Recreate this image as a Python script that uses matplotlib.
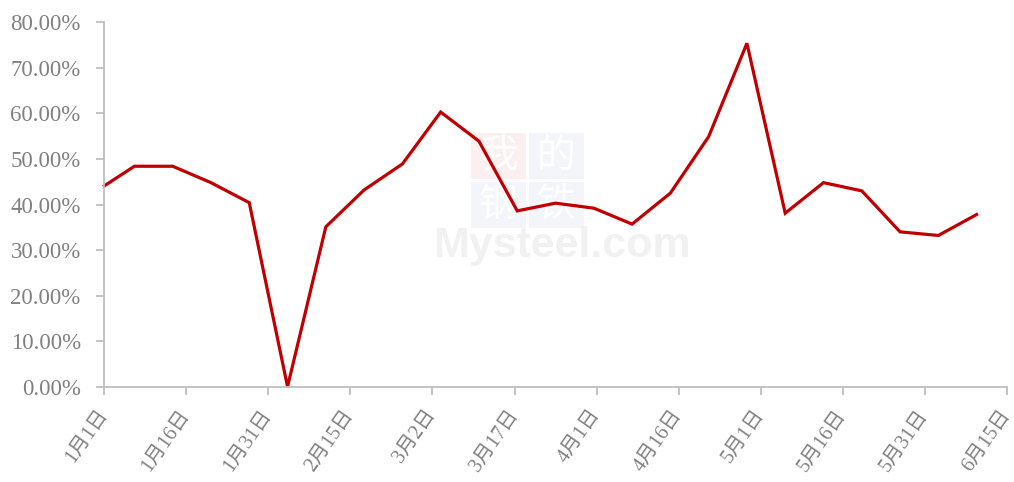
import matplotlib
matplotlib.use("Agg")
import matplotlib.pyplot as plt
from matplotlib.patches import Rectangle
from matplotlib.ticker import FuncFormatter, MultipleLocator

# Data: x = days since 1月1日, y = percentage
day_offsets = [0, 5.5, 12.5, 19.5, 26.5, 33.5, 40.5, 47.5, 54.5, 61.5, 68.5, 75.5,
               82.5, 89.5, 96.5, 103.5, 110.5, 117.5, 124.5, 131.5, 138.5, 145.5,
               152.5, 159.5]
values = [44.1, 48.4, 48.4, 44.8, 40.4, 0.0, 35.1, 43.2, 48.9, 60.3, 53.9, 38.6,
          40.3, 39.2, 35.7, 42.5, 54.9, 75.4, 38.1, 44.8, 43.0, 34.0, 33.2, 37.8]

tick_days = [0, 15, 30, 45, 60, 75, 90, 105, 120, 135, 150, 165]
tick_labels = ["1月1日", "1月16日", "1月31日", "2月15日", "3月2日", "3月17日",
               "4月1日", "4月16日", "5月1日", "5月16日", "5月31日", "6月15日"]

fonts = ["Liberation Serif", "Noto Sans CJK SC", "DejaVu Sans"]
plt.rcParams["font.family"] = fonts

fig = plt.figure(figsize=(10.14, 4.82), dpi=100)
ax = fig.add_axes([0.1029, 0.1977, 0.8899, 0.756])

# watermark
wm_boxes = [
    (471, 133, "我", "#FCEFEF"),
    (529, 133, "的", "#F3F5FA"),
    (471, 182, "钢", "#F3F5FA"),
    (529, 182, "铁", "#F3F5FA"),
]
W, H = 1014, 482
for (x0, y0, ch, col) in wm_boxes:
    fig.patches.append(Rectangle((x0 / W, 1 - (y0 + 46) / H), 55 / W, 46 / H,
                                 transform=fig.transFigure, facecolor=col,
                                 edgecolor="none", zorder=0))
    fig.text((x0 + 27.5) / W, 1 - (y0 + 23) / H, ch, color="white",
             fontsize=28, ha="center", va="center", family=["Noto Sans CJK SC"],
             zorder=0.5)
fig.text(433 / W, 1 - 257 / H, "Mysteel.com", color="#F1F1F1", fontsize=31,
         fontweight="bold", family=["Liberation Sans", "DejaVu Sans"],
         ha="left", va="baseline", zorder=0.5)
ax.set_facecolor("none")
ax.set_zorder(2)

ax.plot(day_offsets, values, color="#C00000", linewidth=2.3, solid_joinstyle="miter",
        clip_on=False)

ax.set_xlim(0, 165)
ax.set_ylim(0, 80)
ax.yaxis.set_major_locator(MultipleLocator(10))
ax.yaxis.set_major_formatter(FuncFormatter(lambda v, p: f"{v:.2f}%"))
ax.set_xticks(tick_days)
ax.set_xticklabels(tick_labels, rotation=55, ha="right", va="center",
                   rotation_mode="anchor")

for s in ["top", "right"]:
    ax.spines[s].set_visible(False)
for s in ["left", "bottom"]:
    ax.spines[s].set_color("#BFBFBF")
    ax.spines[s].set_linewidth(1.3)

ax.tick_params(axis="both", colors="#BFBFBF", labelcolor="#808080", length=6,
               width=1.3, direction="out")
ax.tick_params(axis="x", pad=12, labelsize=14.5)
ax.tick_params(axis="y", pad=11, labelsize=16.5)

fig.savefig("out.png", dpi=100)
